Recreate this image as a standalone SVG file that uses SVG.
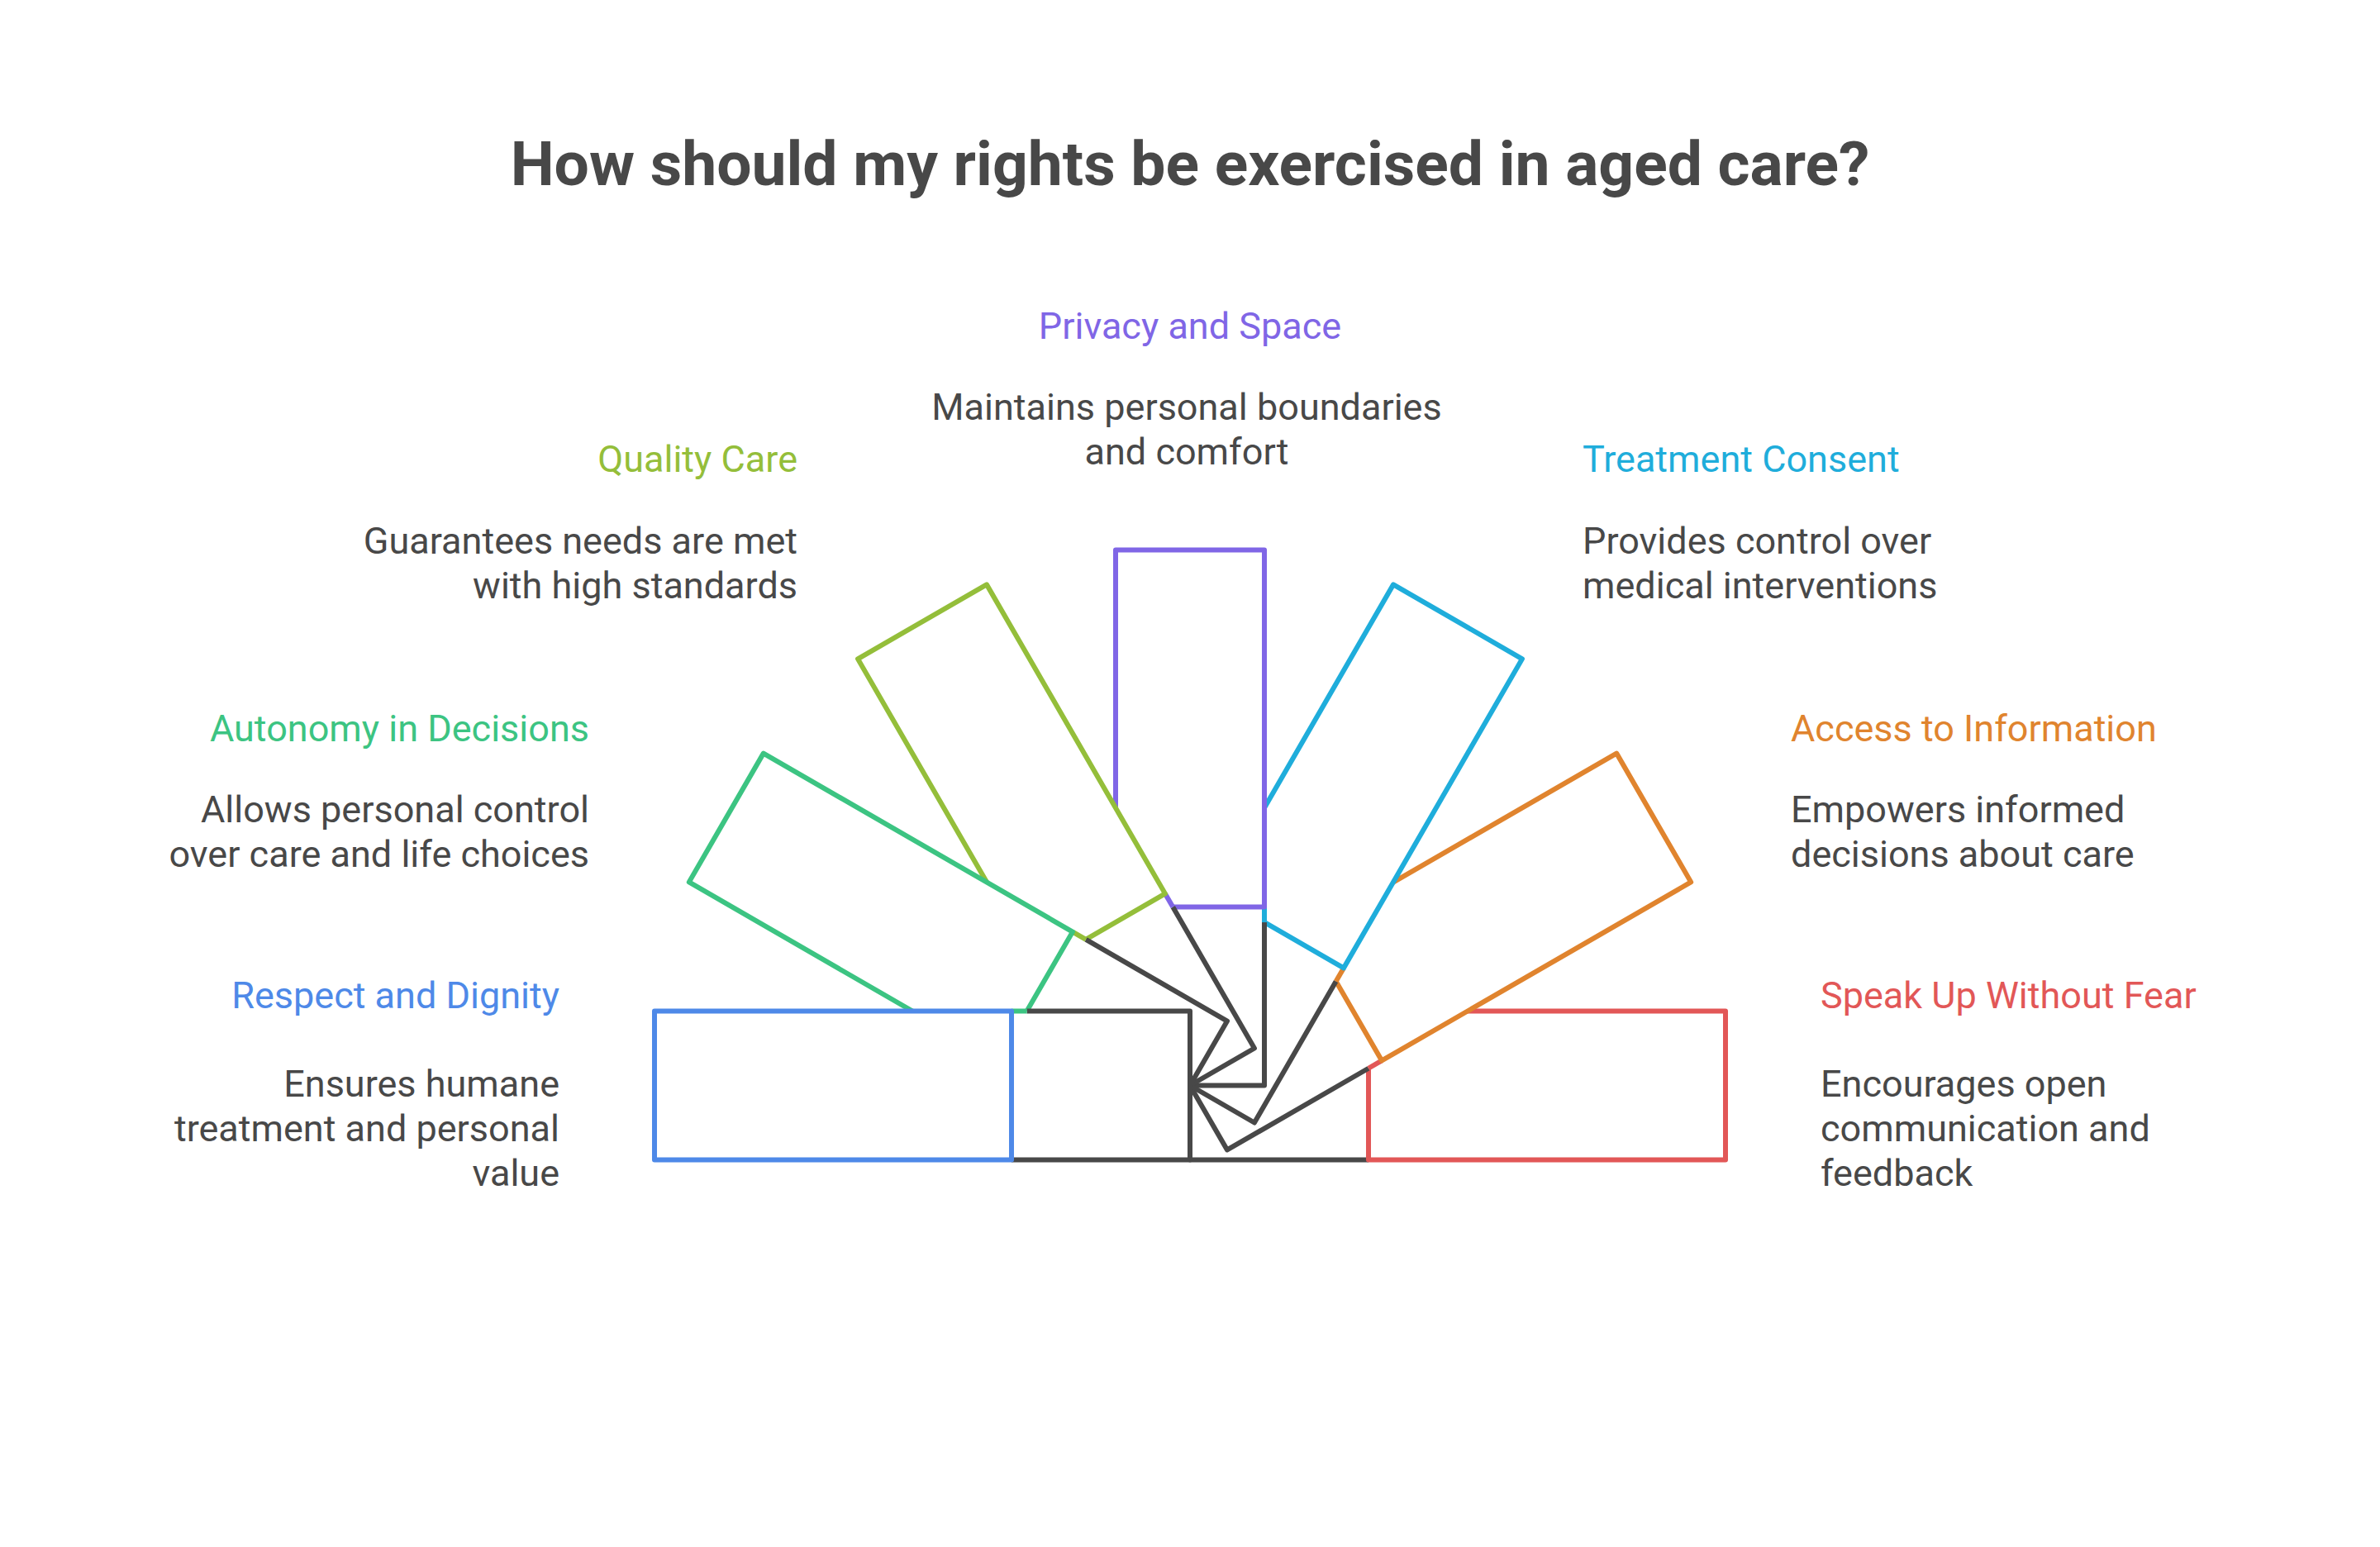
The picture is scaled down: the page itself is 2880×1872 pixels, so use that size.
<svg xmlns="http://www.w3.org/2000/svg" width="2880" height="1872" viewBox="0 0 2880 1872">
<style>
  text{font-family:Roboto,"Liberation Sans",sans-serif}
  .title{font-size:75px;font-weight:700;fill:#484848}
  .lab{font-size:45px}
  .desc{font-size:45px;fill:#484848}
  .dk{fill:none;stroke:#484848;stroke-width:6;stroke-linejoin:round}
  .st{fill:none;stroke-width:6;stroke-linejoin:round}
</style>
<defs>
  <rect id="bg" x="-648" y="-90" width="648" height="180" fill="#ffffff"/>
  <path id="dark" d="M-216 90H0V-90H-197.4"/>
  <path id="darkfull" d="M-216 90H0V-90H-216"/>
  <path id="gap" d="M-197.4 -90H-216"/>
  <rect id="outer" x="-648" y="-90" width="432" height="180"/>
</defs>
<rect width="2880" height="1872" fill="#ffffff"/>
<text class="title" x="1440" y="224" text-anchor="middle">How should my rights be exercised in aged care?</text>

<g id="speak-up">
  <g transform="translate(1440 1313.5) rotate(180)">
    <use href="#bg"/>
    <use href="#darkfull" class="dk"/>
    <use href="#outer" class="st" stroke="#E25757"/>
  </g>
  <text class="lab" x="2203" y="1220" fill="#E25757">Speak Up Without Fear</text>
  <text class="desc" x="2203" y="1327">Encourages open</text>
  <text class="desc" x="2203" y="1381">communication and</text>
  <text class="desc" x="2203" y="1435">feedback</text>
</g>

<g id="access-info">
  <g transform="translate(1440 1313.5) rotate(150)">
    <use href="#bg"/>
    <use href="#dark" class="dk"/>
    <use href="#gap" class="st" stroke="#E25757"/>
    <use href="#outer" class="st" stroke="#E0842E"/>
  </g>
  <text class="lab" x="2167" y="897" fill="#E0842E">Access to Information</text>
  <text class="desc" x="2167" y="995">Empowers informed</text>
  <text class="desc" x="2167" y="1049">decisions about care</text>
</g>

<g id="treatment-consent">
  <g transform="translate(1440 1313.5) rotate(120)">
    <use href="#bg"/>
    <use href="#dark" class="dk"/>
    <use href="#gap" class="st" stroke="#E0842E"/>
    <use href="#outer" class="st" stroke="#1FADDB"/>
  </g>
  <text class="lab" x="1915" y="571" fill="#1FADDB">Treatment Consent</text>
  <text class="desc" x="1915" y="670">Provides control over</text>
  <text class="desc" x="1915" y="724">medical interventions</text>
</g>

<g id="privacy-space">
  <g transform="translate(1440 1313.5) rotate(90)">
    <use href="#bg"/>
    <use href="#dark" class="dk"/>
    <use href="#gap" class="st" stroke="#1FADDB"/>
    <use href="#outer" class="st" stroke="#8066E6"/>
  </g>
  <text class="lab" x="1440" y="410" text-anchor="middle" fill="#8066E6">Privacy and Space</text>
  <text class="desc" x="1436" y="508" text-anchor="middle">Maintains personal boundaries</text>
  <text class="desc" x="1436" y="562" text-anchor="middle">and comfort</text>
</g>

<g id="quality-care">
  <g transform="translate(1440 1313.5) rotate(60)">
    <use href="#bg"/>
    <use href="#dark" class="dk"/>
    <use href="#gap" class="st" stroke="#8066E6"/>
    <use href="#outer" class="st" stroke="#94BE3A"/>
  </g>
  <text class="lab" x="965" y="571" text-anchor="end" fill="#94BE3A">Quality Care</text>
  <text class="desc" x="965" y="670" text-anchor="end">Guarantees needs are met</text>
  <text class="desc" x="965" y="724" text-anchor="end">with high standards</text>
</g>

<g id="autonomy">
  <g transform="translate(1440 1313.5) rotate(30)">
    <use href="#bg"/>
    <use href="#dark" class="dk"/>
    <use href="#gap" class="st" stroke="#94BE3A"/>
    <use href="#outer" class="st" stroke="#3CC482"/>
  </g>
  <text class="lab" x="713" y="897" text-anchor="end" fill="#3CC482">Autonomy in Decisions</text>
  <text class="desc" x="713" y="995" text-anchor="end">Allows personal control</text>
  <text class="desc" x="713" y="1049" text-anchor="end">over care and life choices</text>
</g>

<g id="respect-dignity">
  <g transform="translate(1440 1313.5)">
    <use href="#bg"/>
    <use href="#dark" class="dk"/>
    <use href="#gap" class="st" stroke="#3CC482"/>
    <use href="#outer" class="st" stroke="#4E89E8"/>
  </g>
  <text class="lab" x="677" y="1220" text-anchor="end" fill="#4E89E8">Respect and Dignity</text>
  <text class="desc" x="677" y="1327" text-anchor="end">Ensures humane</text>
  <text class="desc" x="677" y="1381" text-anchor="end">treatment and personal</text>
  <text class="desc" x="677" y="1435" text-anchor="end">value</text>
</g>

<g id="connectors"></g>
</svg>
